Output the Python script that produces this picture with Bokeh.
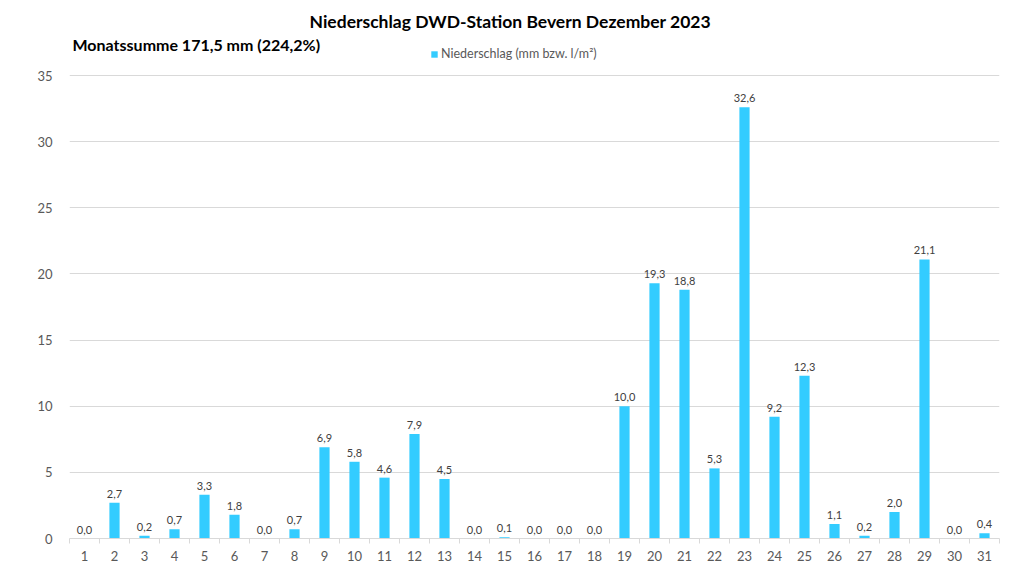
from bokeh.plotting import figure
from bokeh.models import (ColumnDataSource, FixedTicker, Label, Legend, LegendItem,
                          Range1d, LabelSet)
from bokeh.core.properties import value
from bokeh.embed import file_html
from bokeh.resources import INLINE

days = list(range(1, 32))
precip = [0.0, 2.7, 0.2, 0.7, 3.3, 1.8, 0.0, 0.7, 6.9, 5.8, 4.6, 7.9, 4.5, 0.0, 0.1,
          0.0, 0.0, 0.0, 10.0, 19.3, 18.8, 5.3, 32.6, 9.2, 12.3, 1.1, 0.2, 2.0, 21.1,
          0.0, 0.4]
labels = [f"{v:.1f}".replace(".", ",") for v in precip]
y_ticks = [0, 5, 10, 15, 20, 25, 30, 35]

title_text = "Niederschlag  DWD-Station  Bevern Dezember 2023"
subtitle_text = "Monatssumme 171,5 mm (224,2%)"
legend_text = "Niederschlag (mm bzw. l/m²)"

FONT = "Lato"
BAR = "#33CCFF"

src = ColumnDataSource(dict(x=days, y=precip, lab=labels))

W, H = 1008, 564
L, R, T, B = 69, 9, 0, 26
frame_h = H - T - B
top_px = 75  # pixel row of the 35 gridline
y_end = 35 * frame_h / (frame_h - top_px)

p = figure(width=W, height=H, output_backend="svg", toolbar_location=None,
           x_range=Range1d(0.5, 31.5), y_range=Range1d(0, y_end),
           min_border_left=L, min_border_right=R, min_border_top=T, min_border_bottom=B)
p.outline_line_color = None
p.background_fill_color = "white"
p.border_fill_color = "white"

r = p.vbar(x="x", top="y", width=0.34, source=src, fill_color=BAR, line_color=None)

p.add_layout(LabelSet(x="x", y="y", text="lab", source=src, text_align="center",
                      text_baseline="bottom", y_offset=5, text_font_size="11px",
                      text_color="#404040", text_font=value(FONT)))

# x axis
p.xaxis.ticker = FixedTicker(ticks=days, minor_ticks=[d + 0.5 for d in range(0, 32)])
p.xaxis.major_tick_line_color = None
p.xaxis.minor_tick_line_color = "#d9d9d9"
p.xaxis.minor_tick_in = 0
p.xaxis.minor_tick_out = 5
p.xaxis.axis_line_color = "#d9d9d9"
p.xaxis.major_label_text_font = FONT
p.xaxis.major_label_text_font_size = "13px"
p.xaxis.major_label_text_color = "#595959"
p.xaxis.major_label_standoff = 6
p.xgrid.grid_line_color = None

# y axis
p.yaxis.ticker = FixedTicker(ticks=y_ticks)
p.yaxis.axis_line_color = None
p.yaxis.major_tick_line_color = None
p.yaxis.minor_tick_line_color = None
p.yaxis.major_label_text_font = FONT
p.yaxis.major_label_text_font_size = "13px"
p.yaxis.major_label_text_color = "#595959"
p.yaxis.major_label_standoff = 11
p.ygrid.grid_line_color = "#d9d9d9"

p.add_layout(Label(x=514 - L, y=frame_h - 21, x_units="screen", y_units="screen",
                   text=title_text, text_align="center", text_baseline="middle",
                   text_font=FONT, text_font_style="bold", text_font_size="17.5px",
                   text_color="#000000"))
p.add_layout(Label(x=72 - L, y=frame_h - 44, x_units="screen", y_units="screen",
                   text=subtitle_text, text_align="left", text_baseline="middle",
                   text_font=FONT, text_font_style="bold", text_font_size="16px",
                   text_color="#000000"))

legend = Legend(items=[LegendItem(label=legend_text, renderers=[r])],
                location=(430 - L, frame_h - 61), orientation="horizontal",
                label_text_font=FONT, label_text_font_size="12.5px",
                label_text_color="#595959", glyph_width=8, glyph_height=8,
                label_height=12, label_standoff=3, padding=0, spacing=0,
                margin=0, border_line_color=None, background_fill_alpha=0)
p.add_layout(legend)

open("out.html", "w").write(file_html(p, INLINE))
